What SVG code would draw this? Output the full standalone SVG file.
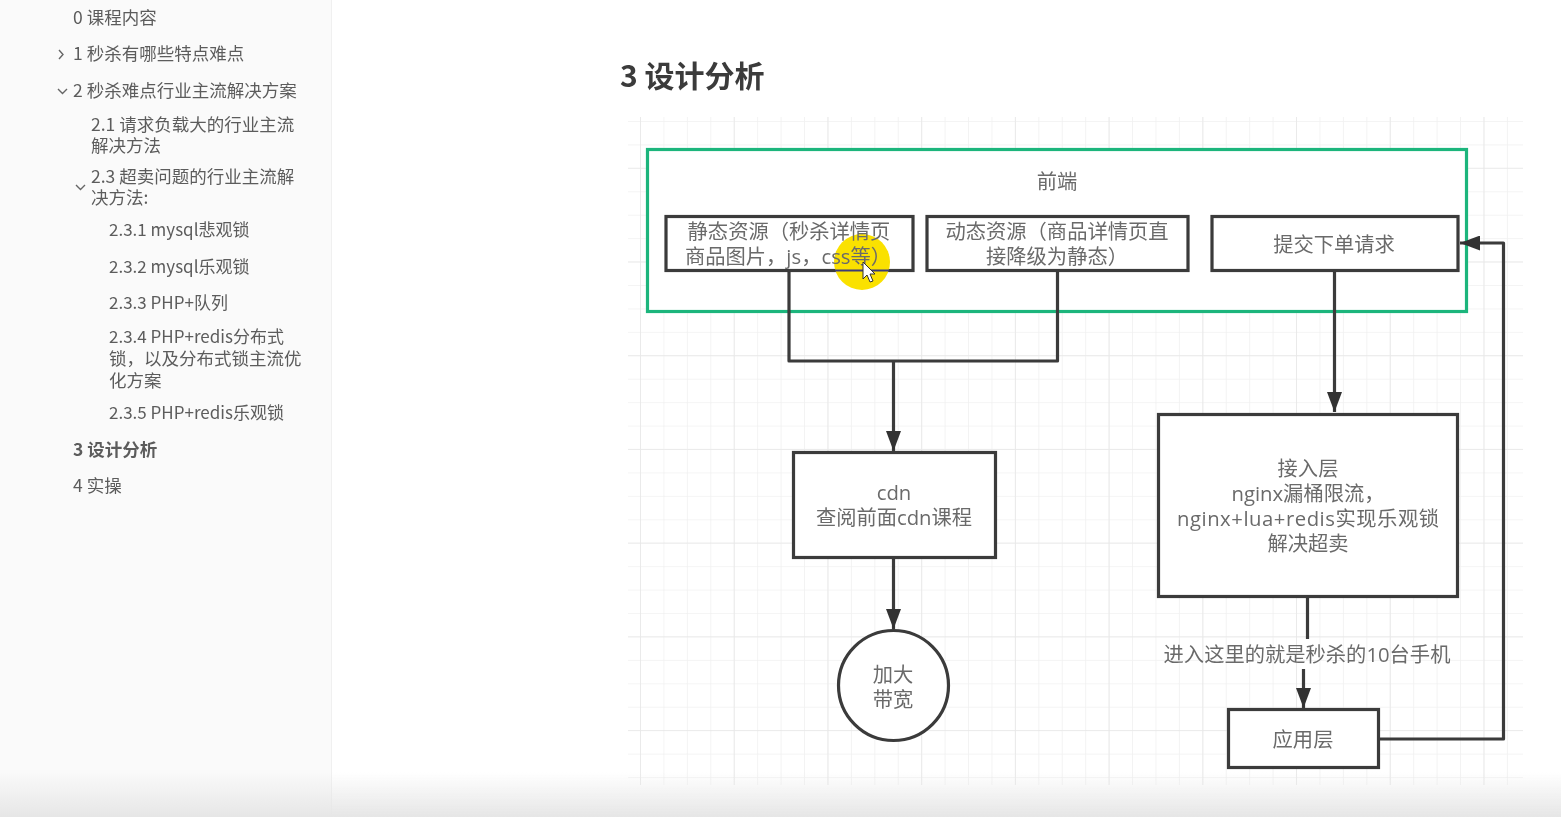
<svg xmlns="http://www.w3.org/2000/svg" width="1561" height="817" viewBox="0 0 1561 817">
<style>
text{font-family:"Noto Sans CJK SC","Noto Sans",sans-serif}
.s{font-size:17.500px;fill:#5c5c5c}
.l{font-size:17px}
.d{font-family:"Open Sans","Noto Sans CJK SC",sans-serif;font-size:20.300px;fill:#6a6a6a;text-anchor:middle}
.b{fill:#fff;stroke:#3a3a3a;stroke-width:3.200}
.c{fill:none;stroke:#3a3a3a;stroke-width:3.200;stroke-linejoin:round}
.h{fill:none;stroke:#666;stroke-width:1.400}
</style>
<defs>
<filter id="soft" x="0" y="0" width="100%" height="100%"><feGaussianBlur stdDeviation="0.5"/></filter>
<linearGradient id="fade" x1="0" y1="0" x2="0" y2="1"><stop offset="0" stop-color="#e6e6e6" stop-opacity="0"/><stop offset="1" stop-color="#e6e6e6"/></linearGradient>
<marker id="arrow" markerUnits="userSpaceOnUse" markerWidth="20" markerHeight="15" refX="20" refY="7.500" orient="auto" viewBox="0 0 20 15"><path d="M0 0L20 7.500L0 15Z" fill="#333"/></marker>
<pattern id="minor" width="23.43" height="23.43" patternUnits="userSpaceOnUse" x="640" y="121"><path d="M0 0V23.43M0 0H23.43" fill="none" stroke="#f1f1f1" stroke-width="1.600"/></pattern>
<pattern id="major" width="93.72" height="93.72" patternUnits="userSpaceOnUse" x="640" y="74"><path d="M0 0V93.72M0 0H93.72" fill="none" stroke="#e8e8e8" stroke-width="1.600"/></pattern>
</defs>
<rect width="1561" height="817" fill="#fff"/>
<g filter="url(#soft)">
<g id="sidebar">
<rect x="0" y="0" width="331" height="817" fill="#fafafa"/>
<path d="M331.500 0V817" stroke="#f0f0f0" stroke-width="1"/>
<path class="h" d="M59 50l4 4.500l-4 4.500M58 89l4.500 4.500l4.500-4.500M76 185l4.500 4.500l4.500-4.500"/>
<text class="s" x="73" y="24">0 课程内容</text>
<text class="s" x="73" y="60">1 秒杀有哪些特点难点</text>
<text class="s" x="73" y="97">2 秒杀难点行业主流解决方案</text>
<text class="s" x="91" y="131">2.1 请求负载大的行业主流</text>
<text class="s" x="91" y="152">解决方法</text>
<text class="s" x="91" y="183">2.3 超卖问题的行业主流解</text>
<text class="s" x="91" y="204">决方法:</text>
<text class="s l" x="109" y="236">2.3.1 mysql悲观锁</text>
<text class="s l" x="109" y="273">2.3.2 mysql乐观锁</text>
<text class="s l" x="109" y="309">2.3.3 PHP+队列</text>
<text class="s l" x="109" y="343">2.3.4 PHP+redis分布式</text>
<text class="s" x="109" y="365">锁，以及分布式锁主流优</text>
<text class="s" x="109" y="387">化方案</text>
<text class="s l" x="109" y="419">2.3.5 PHP+redis乐观锁</text>
<text class="s" x="73" y="456" font-weight="700">3 设计分析</text>
<text class="s" x="73" y="492">4 实操</text>
</g>
<text x="620" y="87" font-size="30" font-weight="700" fill="#3a3a3a">3 设计分析</text>
<g id="grid">
<rect x="628" y="117" width="895" height="668" fill="url(#minor)"/>
<rect x="628" y="117" width="895" height="668" fill="url(#major)"/>
</g>
<g id="frontend"><rect x="647.500" y="149.500" width="819" height="162" fill="#fff" stroke="#1fb57c" stroke-width="3.200"/><text class="d" x="1057" y="189">前端</text></g>
<g id="connectors">
<path class="c" d="M789 271V361H1057.500V271"/>
<path class="c" d="M893.500 361V451" marker-end="url(#arrow)"/>
<path class="c" d="M893.500 558V629" marker-end="url(#arrow)"/>
<path class="c" d="M1334.500 271V412" marker-end="url(#arrow)"/>
<path class="c" d="M1307.500 597V639"/>
<path class="c" d="M1303.500 669V708" marker-end="url(#arrow)"/>
<path class="c" d="M1380 739H1503.500V243H1460" marker-end="url(#arrow)"/>
</g>
<g id="static"><rect class="b" x="666" y="216.500" width="247" height="54"/><circle cx="862" cy="262" r="28" fill="#fae100"/><path d="M835 270.500H889" stroke="#3b3b78" stroke-width="2"/><text class="d" x="789" y="239">静态资源（秒杀详情页</text><text class="d" x="788" y="264">商品图片，js，css等）</text></g>
<g id="dynamic"><rect class="b" x="927" y="216.500" width="261" height="54"/><text class="d" x="1057" y="239">动态资源（商品详情页直</text><text class="d" x="1057" y="264">接降级为静态）</text></g>
<g id="submit"><rect class="b" x="1212" y="216.500" width="246" height="54"/><text class="d" x="1334" y="252">提交下单请求</text></g>
<g id="cdn"><rect class="b" x="793.500" y="452.500" width="202" height="105"/><text class="d" x="894" y="500">cdn</text><text class="d" x="894" y="525">查阅前面cdn课程</text></g>
<g id="bandwidth"><circle class="b" cx="893.500" cy="685.500" r="55"/><text class="d" x="893" y="682">加大</text><text class="d" x="893" y="707">带宽</text></g>
<g id="access"><rect class="b" x="1158.500" y="414.500" width="299" height="182"/><text class="d" x="1308" y="476">接入层</text><text class="d" x="1308" y="501">nginx漏桶限流，</text><text class="d" x="1308" y="526" textLength="262">nginx+lua+redis实现乐观锁</text><text class="d" x="1308" y="551">解决超卖</text></g>
<g id="app"><rect class="b" x="1228.500" y="709.500" width="150" height="58"/><text class="d" x="1303" y="747">应用层</text></g>
<text class="d" x="1307" y="662">进入这里的就是秒杀的10台手机</text>
<path id="cursor" d="M863 262V279L867 275L870 282L873 281L870 274L875 274Z" fill="#fff" stroke="#333" stroke-width="1"/>
<rect id="fade-bar" x="0" y="772" width="1561" height="45" fill="url(#fade)"/>
</g>
</svg>
